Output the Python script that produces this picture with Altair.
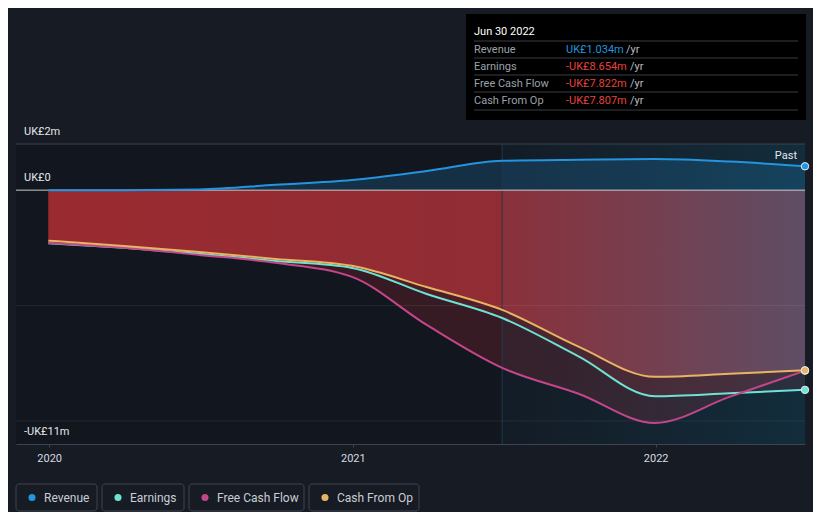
import altair as alt
import pandas as pd

# ---- data (values in UK£ millions) ----
dates = ["2019-12-31", "2020-03-31", "2020-06-30", "2020-09-30", "2020-12-31",
         "2021-03-31", "2021-06-30", "2021-09-30", "2021-12-31", "2022-03-31", "2022-06-30"]
revenue = [0.0, 0.0, 0.03, 0.23, 0.44, 0.83, 1.27, 1.32, 1.35, 1.24, 1.034]
earnings = [-2.30, -2.50, -2.76, -3.07, -3.37, -4.50, -5.54, -7.20, -8.93, -8.80, -8.654]
free_cash_flow = [-2.29, -2.50, -2.81, -3.15, -3.76, -5.84, -7.70, -8.82, -10.09, -8.96, -7.822]
cash_from_op = [-2.19, -2.42, -2.68, -2.98, -3.28, -4.20, -5.19, -6.78, -8.09, -7.96, -7.807]

series_names = ["Revenue", "Earnings", "Free Cash Flow", "Cash From Op"]
series_colors = ["#2394df", "#6ee3d4", "#c4468a", "#e8b463"]

year_ticks = [2020, 2021, 2022]
y_label_values = [2, 0, -11]
y_label_texts = ["UK£2m", "UK£0", "-UK£11m"]
grid_values = [-5, -10]
past_start, past_end = "2021-06-30", "2022-06-30"

tip_title = "Jun 30 2022"
tip_labels = ["Revenue", "Earnings", "Free Cash Flow", "Cash From Op"]
tip_values = ["UK£1.034m", "-UK£8.654m", "-UK£7.822m", "-UK£7.807m"]
tip_colors = ["#2394df", "#e8423c", "#e8423c", "#e8423c"]

BG = "#161b24"

# ---- tables ----
wide = pd.DataFrame({"date": dates, "Revenue": revenue, "Earnings": earnings,
                     "Free Cash Flow": free_cash_flow, "Cash From Op": cash_from_op})
long = wide.melt("date", var_name="series", value_name="value")
last = long[long["date"] == dates[-1]]

W, H = 789, 300
FONT = "Roboto"
xscale = alt.Scale(type="utc", domain=[alt.DateTime(year=2019, month=11, date=22, utc=True),
                                       alt.DateTime(year=2022, month=6, date=30, utc=True)])
yscale = alt.Scale(domain=[-11, 2])
xaxis = alt.Axis(values=[alt.DateTime(year=y, month=1, date=1, utc=True) for y in year_ticks],
                 format="%Y", title=None, grid=False, labelColor="#d6dae0", labelFont=FONT,
                 labelFontSize=11, labelPadding=5, domainColor="#3e4550", tickColor="#3e4550",
                 tickSize=3, labelFlush=False)
X = alt.X("date:T", scale=xscale, axis=xaxis)
color_scale = alt.Scale(domain=series_names, range=series_colors)
ORD = "indexof(['Revenue','Earnings','Free Cash Flow','Cash From Op'], datum.series)"

base = alt.Chart(wide)

rev_area = base.mark_area(interpolate="monotone", color="#2394df", opacity=0.2).encode(
    x=X, y=alt.Y("Revenue:Q", scale=yscale, axis=None), y2=alt.datum(0))
fcf_area = base.mark_area(interpolate="monotone", color="#c8303a", opacity=0.2).encode(
    x=X, y=alt.Y("Free Cash Flow:Q", scale=yscale, axis=None), y2=alt.datum(0))
earn_area = base.mark_area(interpolate="monotone", color="#c8303a", opacity=0.16).encode(
    x=X, y=alt.Y("Earnings:Q", scale=yscale, axis=None), y2=alt.datum(0))
red_grad = alt.LinearGradient(gradient="linear", x1=0, x2=1, y1=0, y2=0, stops=[
    alt.GradientStop(color="#9e2b30", offset=0),
    alt.GradientStop(color="#942d35", offset=0.6),
    alt.GradientStop(color="#6f3f52", offset=1)])
cfo_area = base.mark_area(interpolate="monotone", color=red_grad, opacity=0.95).encode(
    x=X, y=alt.Y("Cash From Op:Q", scale=yscale, axis=None), y2=alt.datum(0))

past_df = pd.DataFrame({"start": [past_start], "end": [past_end]})
past_grad = alt.LinearGradient(gradient="linear", x1=0, x2=1, y1=0, y2=0, stops=[
    alt.GradientStop(color="rgba(40,140,180,0.05)", offset=0),
    alt.GradientStop(color="rgba(20,160,210,0.17)", offset=1)])
past_rect = alt.Chart(past_df).mark_rect(color=past_grad).encode(
    x=alt.X("start:T", scale=xscale, axis=xaxis), x2="end:T", y=alt.value(0), y2=alt.value(H))
past_edge = alt.Chart(past_df).mark_rule(color="#1d3b4a", strokeWidth=1).encode(
    x=alt.X("start:T", scale=xscale, axis=xaxis), y=alt.value(0), y2=alt.value(H))

grid = alt.Chart(pd.DataFrame({"v": grid_values})).mark_rule(color="#ffffff", opacity=0.07).encode(
    y=alt.Y("v:Q", scale=yscale, axis=None))
top_rule = alt.Chart(pd.DataFrame({"v": [y_label_values[0]]})).mark_rule(color="#3c424c").encode(
    y=alt.Y("v:Q", scale=yscale, axis=None))
zero_rule = alt.Chart(pd.DataFrame({"v": [0]})).mark_rule(color="#e6e6e6", opacity=0.85).encode(
    y=alt.Y("v:Q", scale=yscale, axis=None))

lines = alt.Chart(long).mark_line(interpolate="monotone", strokeWidth=2).encode(
    x=X, y=alt.Y("value:Q", scale=yscale, axis=None),
    color=alt.Color("series:N", scale=color_scale, legend=None),
    order=alt.Order("ord:Q")).transform_calculate(ord=ORD)
ends = alt.Chart(last).mark_circle(size=55, opacity=1, stroke="#e8eef4", strokeWidth=1).encode(
    x=X, y=alt.Y("value:Q", scale=yscale, axis=None),
    color=alt.Color("series:N", scale=color_scale, legend=None),
    order=alt.Order("ord:Q")).transform_calculate(ord=ORD)

ylabels = alt.Chart(pd.DataFrame({"v": y_label_values, "t": y_label_texts})).mark_text(
    align="left", baseline="middle", dy=-12, fontSize=11, font=FONT, color="#e4e7eb").encode(
    x=alt.value(8), y=alt.Y("v:Q", scale=yscale, axis=None), text="t:N")
past_text = alt.Chart(pd.DataFrame({"t": ["Past"]})).mark_text(
    align="right", baseline="middle", fontSize=11, font=FONT, color="#e4e7eb").encode(
    x=alt.value(781), y=alt.value(12), text="t:N")

# ---- tooltip box ----
tip_box = alt.Chart(pd.DataFrame({"a": [0]})).mark_rect(color="#000000").encode(
    x=alt.value(450), x2=alt.value(790), y=alt.value(-130), y2=alt.value(-24))
tip_title_t = alt.Chart(pd.DataFrame({"t": [tip_title]})).mark_text(
    align="left", baseline="middle", fontSize=11, font=FONT, color="#ffffff").encode(
    x=alt.value(458), y=alt.value(-112), text="t:N")
sep_df = pd.DataFrame({"py": [-103, -86, -69, -52, -34]})
tip_seps = alt.Chart(sep_df).mark_rule(color="#3a3d42").encode(
    x=alt.value(458), x2=alt.value(782), y=alt.Y("py:Q", scale=None))
row_df = pd.DataFrame({"label": tip_labels, "val": tip_values, "col": tip_colors,
                       "py": [-94.5, -77.5, -60, -43], "px": [610, 614, 614, 614], "yr": ["/yr"] * 4})
tip_lab = alt.Chart(row_df).mark_text(align="left", baseline="middle", fontSize=11, font=FONT,
                                      color="#9aa1aa").encode(
    x=alt.value(458), y=alt.Y("py:Q", scale=None), text="label:N")
tip_val = alt.Chart(row_df).mark_text(align="left", baseline="middle", fontSize=11, font=FONT).encode(
    x=alt.value(550), y=alt.Y("py:Q", scale=None), text="val:N",
    color=alt.Color("col:N", scale=None))
tip_yr = alt.Chart(row_df).mark_text(align="left", baseline="middle", fontSize=11, font=FONT,
                                     color="#b8bec6").encode(
    x=alt.X("px:Q", scale=None), y=alt.Y("py:Q", scale=None), text="yr:N")

# ---- custom legend ----
legend_box_x0 = [0, 86, 173, 293]
legend_box_x1 = [81, 168, 288, 403]
leg_df = pd.DataFrame({"name": series_names, "x0": legend_box_x0, "x1": legend_box_x1})
leg_df["dot"] = leg_df["x0"] + 16
leg_df["tx"] = leg_df["x0"] + 28
leg_box = alt.Chart(leg_df).mark_rect(fill=BG, stroke="#3e444e", strokeWidth=1,
                                      cornerRadius=3).encode(
    x=alt.X("x0:Q", scale=None), x2="x1:Q", y=alt.value(340), y2=alt.value(367))
leg_dot = alt.Chart(leg_df).mark_circle(size=50, opacity=1).encode(
    x=alt.X("dot:Q", scale=None), y=alt.value(353.5),
    color=alt.Color("name:N", scale=color_scale, legend=None))
leg_txt = alt.Chart(leg_df).mark_text(align="left", baseline="middle", fontSize=12, font=FONT,
                                      color="#c9ced5").encode(
    x=alt.X("tx:Q", scale=None), y=alt.value(353.5), text="name:N")

chart = alt.layer(
    rev_area, fcf_area, earn_area, cfo_area, past_rect, past_edge,
    grid, top_rule, zero_rule, lines, ends, ylabels, past_text,
    tip_box, tip_seps, tip_title_t, tip_lab, tip_val, tip_yr,
    leg_box, leg_dot, leg_txt
).properties(
    width=W, height=H,
    padding={"left": 8, "top": 136, "right": 8, "bottom": 68},
    autosize=alt.AutoSizeParams(type="none"),
    background=BG,
).configure_view(strokeWidth=0, fill="#12161e")

chart.save("out.html", embed_options={"renderer": "svg", "actions": False})
